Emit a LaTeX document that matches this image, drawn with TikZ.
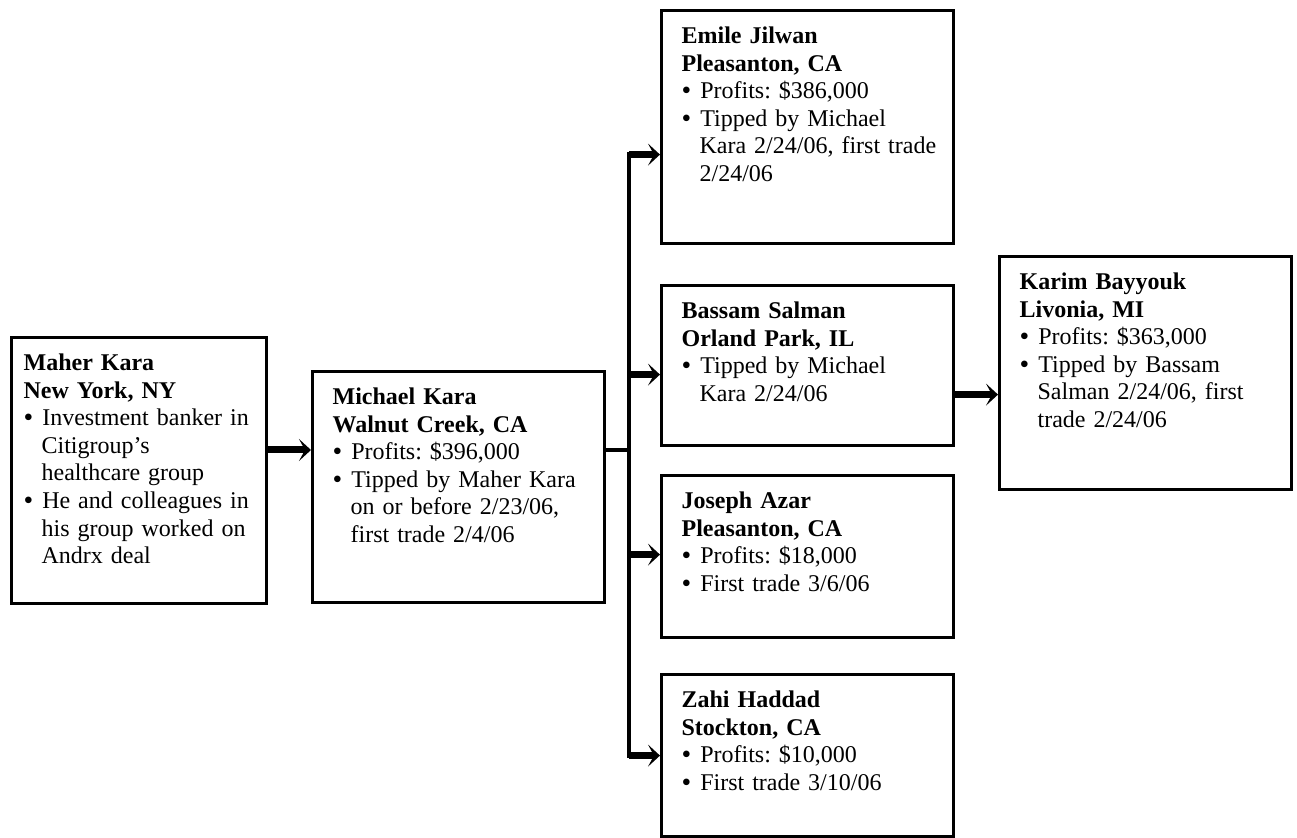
\documentclass[tikz,border=0pt]{standalone}
\usepackage{fontspec}
\setmainfont{Liberation Serif}
\usepackage{enumitem}
\setlist[itemize]{nosep, align=left, labelindent=0pt, labelwidth=4.5pt, labelsep=4.5pt,
    leftmargin=9pt, label={\raisebox{-0.6pt}{\scalebox{1.15}{\textbullet}}}}
\usepackage{tikz}
\usetikzlibrary{arrows.meta, positioning}

\begin{document}
\begin{tikzpicture}[
    x=0.5pt, y=-0.5pt,
    box/.style={draw, line width=1.6pt, rectangle, anchor=north west, align=left,
        inner xsep=10pt, inner ysep=7.5pt, text height=9pt, text width=126pt,
        font=\fontsize{12}{13.8}\selectfont\frenchspacing},
    arrow/.style={-{Stealth[length=6pt, width=11pt, inset=3pt]}, line width=3.5pt},
    bus/.style={line width=2.2pt, line cap=rect}
]
\useasboundingbox (0,0) rectangle (1297,838);

% Source of the tip
\node[box, inner xsep=6pt, text width=115.5pt, text depth=109pt] (maher) at (10,336)
    {\textbf{Maher Kara}\\ \textbf{New York, NY}
     \begin{itemize}
     \item Investment banker in\newline Citigroup’s\newline healthcare group
     \item He and colleagues in\newline his group worked on\newline Andrx deal
     \end{itemize}};
\node[box, text depth=91.5pt] (michael) at (311,370)
    {\textbf{Michael Kara}\\ \textbf{Walnut Creek, CA}
     \begin{itemize}
     \item Profits: \$396,000
     \item Tipped by Maher Kara\newline on or before 2/23/06,\newline first trade 2/4/06
     \end{itemize}};

% Tippees of Michael Kara
\node[box, text depth=92.5pt] (emile) at (660,9)
    {\textbf{Emile Jilwan}\\ \textbf{Pleasanton, CA}
     \begin{itemize}
     \item Profits: \$386,000
     \item Tipped by Michael\newline \mbox{Kara 2/24/06, first trade}\newline 2/24/06
     \end{itemize}};
\node[box, text depth=56pt] (bassam) at (660,284)
    {\textbf{Bassam Salman}\\ \textbf{Orland Park, IL}
     \begin{itemize}
     \item Tipped by Michael\newline Kara 2/24/06
     \end{itemize}};
\node[box, text depth=57pt] (joseph) at (660,474)
    {\textbf{Joseph Azar}\\ \textbf{Pleasanton, CA}
     \begin{itemize}
     \item Profits: \$18,000
     \item First trade 3/6/06
     \end{itemize}};
\node[box, text depth=57pt] (zahi) at (660,673)
    {\textbf{Zahi Haddad}\\ \textbf{Stockton, CA}
     \begin{itemize}
     \item Profits: \$10,000
     \item First trade 3/10/06
     \end{itemize}};

% Tippee of Bassam Salman
\node[box, text depth=92.5pt] (karim) at (998,255)
    {\textbf{Karim Bayyouk}\\ \textbf{Livonia, MI}
     \begin{itemize}
     \item Profits: \$363,000
     \item Tipped by Bassam\newline Salman 2/24/06, first\newline trade 2/24/06
     \end{itemize}};

% Connectors
\coordinate (split) at (629,450);
\coordinate (emileIn) at ([yshift=-13.75pt]emile.west);
\coordinate (bassamIn) at ([yshift=-4.5pt]bassam.west);
\coordinate (josephIn) at ([yshift=1pt]joseph.west);
\coordinate (zahiIn) at (zahi.west);
\draw[arrow] (maher.east |- split) -- (michael.west |- split);
\draw[bus] (michael.east |- split) -- (split);
\draw[bus] (split |- emileIn) -- (split |- zahiIn);
\draw[arrow] (split |- emileIn) -- (emileIn);
\draw[arrow] (split |- bassamIn) -- (bassamIn);
\draw[arrow] (split |- josephIn) -- (josephIn);
\draw[arrow] (split |- zahiIn) -- (zahiIn);
\draw[arrow] ([yshift=-14.5pt]bassam.east) -- ([yshift=-14.5pt]bassam.east -| karim.west);
\end{tikzpicture}
\end{document}
